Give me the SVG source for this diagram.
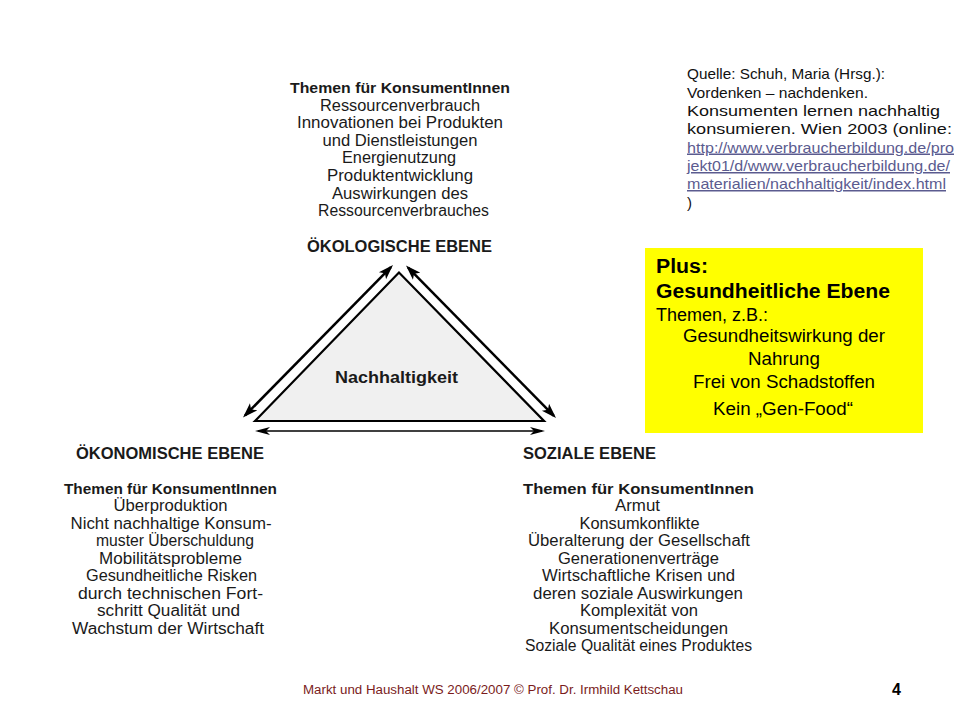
<svg xmlns="http://www.w3.org/2000/svg" width="960" height="720" viewBox="0 0 960 720">
<defs>
<style>
text{font-family:"Liberation Sans",Arial,sans-serif;fill:#1a1a1a;}
.t{font-size:16px;text-anchor:middle;}
.b{font-weight:bold;font-size:15.5px;}
.h{font-size:16.5px;font-weight:bold;}
.src{font-size:15px;fill:#111;}
.url{fill:#5b5b8f;text-decoration:underline;}
.y1{font-size:19.5px;font-weight:bold;fill:#000;}
.y2{font-size:17.5px;fill:#000;}
.conn{stroke:#000;fill:none;}
</style>
<marker id="ah" viewBox="0 0 15 12" markerUnits="userSpaceOnUse" markerWidth="15" markerHeight="12" refX="12" refY="6" orient="auto-start-reverse">
<path d="M0,1 L15,6 L0,11 L3.5,6 z" fill="#000"/>
</marker>
<marker id="ah2" viewBox="0 0 15 12" markerUnits="userSpaceOnUse" markerWidth="15" markerHeight="12" refX="12" refY="6" orient="auto-start-reverse">
<path d="M0,2 L15,6 L0,10 L4,6 z" fill="#000"/>
</marker>
</defs>
<rect width="960" height="720" fill="#fff"/>

<g id="triangle">
<polygon points="399,272.5 255,421 544,421" fill="#f0f0f0" stroke="#000" stroke-width="2.2" stroke-linejoin="miter"/>
<text x="396.5" y="383" class="h" text-anchor="middle" textLength="123" lengthAdjust="spacingAndGlyphs">Nachhaltigkeit</text>
</g>

<g id="connectors">
<line class="conn" x1="245.1" y1="415.4" x2="390.9" y2="267.1" stroke-width="2.5" marker-start="url(#ah)" marker-end="url(#ah)"/>
<line class="conn" x1="408.1" y1="267.6" x2="553.9" y2="415.9" stroke-width="2.5" marker-start="url(#ah)" marker-end="url(#ah)"/>
<line class="conn" x1="258" y1="431" x2="542" y2="431" stroke-width="1.5" marker-start="url(#ah2)" marker-end="url(#ah2)"/>
</g>

<g id="oekologisch">
<text x="400" y="93" class="t b" textLength="220" lengthAdjust="spacingAndGlyphs">Themen für KonsumentInnen</text>
<text x="400" y="110.6" class="t" textLength="160" lengthAdjust="spacingAndGlyphs">Ressourcenverbrauch</text>
<text x="400" y="128.2" class="t" textLength="206" lengthAdjust="spacingAndGlyphs">Innovationen bei Produkten</text>
<text x="400" y="145.8" class="t" textLength="155" lengthAdjust="spacingAndGlyphs">und Dienstleistungen</text>
<text x="399" y="163.4" class="t" textLength="114" lengthAdjust="spacingAndGlyphs">Energienutzung</text>
<text x="400" y="181" class="t" textLength="146" lengthAdjust="spacingAndGlyphs">Produktentwicklung</text>
<text x="400" y="198.6" class="t" textLength="136" lengthAdjust="spacingAndGlyphs">Auswirkungen des</text>
<text x="403.5" y="216.2" class="t" textLength="171" lengthAdjust="spacingAndGlyphs">Ressourcenverbrauches</text>
<text x="399.5" y="252" class="h" text-anchor="middle" textLength="185" lengthAdjust="spacingAndGlyphs">ÖKOLOGISCHE EBENE</text>
</g>

<g id="oekonomisch">
<text x="170" y="459" class="h" text-anchor="middle" textLength="188" lengthAdjust="spacingAndGlyphs">ÖKONOMISCHE EBENE</text>
<text x="170.5" y="493.5" class="t b" textLength="213" lengthAdjust="spacingAndGlyphs">Themen für KonsumentInnen</text>
<text x="170.5" y="511" class="t" textLength="114" lengthAdjust="spacingAndGlyphs">Überproduktion</text>
<text x="171" y="528.5" class="t" textLength="201" lengthAdjust="spacingAndGlyphs">Nicht nachhaltige Konsum-</text>
<text x="175" y="546" class="t" textLength="158" lengthAdjust="spacingAndGlyphs">muster Überschuldung</text>
<text x="170.5" y="563.5" class="t" textLength="143" lengthAdjust="spacingAndGlyphs">Mobilitätsprobleme</text>
<text x="171.5" y="581" class="t" textLength="171" lengthAdjust="spacingAndGlyphs">Gesundheitliche Risken</text>
<text x="170.5" y="598.5" class="t" textLength="185" lengthAdjust="spacingAndGlyphs">durch technischen Fort-</text>
<text x="168.5" y="616" class="t" textLength="143" lengthAdjust="spacingAndGlyphs">schritt Qualität und</text>
<text x="168" y="633.5" class="t" textLength="192" lengthAdjust="spacingAndGlyphs">Wachstum der Wirtschaft</text>
</g>

<g id="sozial">
<text x="523" y="459" class="h" textLength="133" lengthAdjust="spacingAndGlyphs">SOZIALE EBENE</text>
<text x="638.5" y="493.5" class="t b" textLength="231" lengthAdjust="spacingAndGlyphs">Themen für KonsumentInnen</text>
<text x="637.5" y="511" class="t" textLength="45" lengthAdjust="spacingAndGlyphs">Armut</text>
<text x="639.5" y="528.5" class="t" textLength="120" lengthAdjust="spacingAndGlyphs">Konsumkonflikte</text>
<text x="639" y="546" class="t" textLength="222" lengthAdjust="spacingAndGlyphs">Überalterung der Gesellschaft</text>
<text x="638.5" y="563.5" class="t" textLength="161" lengthAdjust="spacingAndGlyphs">Generationenverträge</text>
<text x="638.5" y="581" class="t" textLength="193" lengthAdjust="spacingAndGlyphs">Wirtschaftliche Krisen und</text>
<text x="638" y="598.5" class="t" textLength="210" lengthAdjust="spacingAndGlyphs">deren soziale Auswirkungen</text>
<text x="639" y="616" class="t" textLength="118" lengthAdjust="spacingAndGlyphs">Komplexität von</text>
<text x="638.5" y="633.5" class="t" textLength="179" lengthAdjust="spacingAndGlyphs">Konsumentscheidungen</text>
<text x="638.5" y="651" class="t" textLength="227" lengthAdjust="spacingAndGlyphs">Soziale Qualität eines Produktes</text>
</g>

<g id="quelle">
<text x="687" y="79" class="src" textLength="198" lengthAdjust="spacingAndGlyphs">Quelle: Schuh, Maria (Hrsg.):</text>
<text x="687" y="97.5" class="src" textLength="181" lengthAdjust="spacingAndGlyphs">Vordenken – nachdenken.</text>
<text x="687" y="116" class="src" textLength="253" lengthAdjust="spacingAndGlyphs">Konsumenten lernen nachhaltig</text>
<text x="687" y="134" class="src" textLength="265" lengthAdjust="spacingAndGlyphs">konsumieren. Wien 2003 (online:</text>
<text x="687" y="152.5" class="src url" textLength="267" lengthAdjust="spacingAndGlyphs">http://www.verbraucherbildung.de/pro</text>
<text x="687" y="171" class="src url" textLength="263" lengthAdjust="spacingAndGlyphs">jekt01/d/www.verbraucherbildung.de/</text>
<text x="687" y="189" class="src url" textLength="259" lengthAdjust="spacingAndGlyphs">materialien/nachhaltigkeit/index.html</text>
<text x="687" y="207.5" class="src">)</text>
</g>

<g id="plus">
<rect x="645" y="248" width="278" height="185" fill="#ffff00"/>
<text x="656" y="273" class="y1" textLength="52" lengthAdjust="spacingAndGlyphs">Plus:</text>
<text x="656" y="298" class="y1" textLength="234" lengthAdjust="spacingAndGlyphs">Gesundheitliche Ebene</text>
<text x="656" y="321" class="y2" textLength="112" lengthAdjust="spacingAndGlyphs">Themen, z.B.:</text>
<text x="784" y="342" class="y2" text-anchor="middle" textLength="202" lengthAdjust="spacingAndGlyphs">Gesundheitswirkung der</text>
<text x="784" y="365" class="y2" text-anchor="middle" textLength="72" lengthAdjust="spacingAndGlyphs">Nahrung</text>
<text x="784" y="388" class="y2" text-anchor="middle" textLength="182" lengthAdjust="spacingAndGlyphs">Frei von Schadstoffen</text>
<text x="783" y="415" class="y2" text-anchor="middle" textLength="140" lengthAdjust="spacingAndGlyphs">Kein „Gen-Food“</text>
</g>

<g id="footer">
<text x="303" y="694" style="font-size:12px;fill:#7a1c1c" textLength="380" lengthAdjust="spacingAndGlyphs">Markt und Haushalt WS 2006/2007 © Prof. Dr. Irmhild Kettschau</text>
<text x="892" y="695" style="font-size:16px;font-weight:bold;fill:#000">4</text>
</g>
</svg>
